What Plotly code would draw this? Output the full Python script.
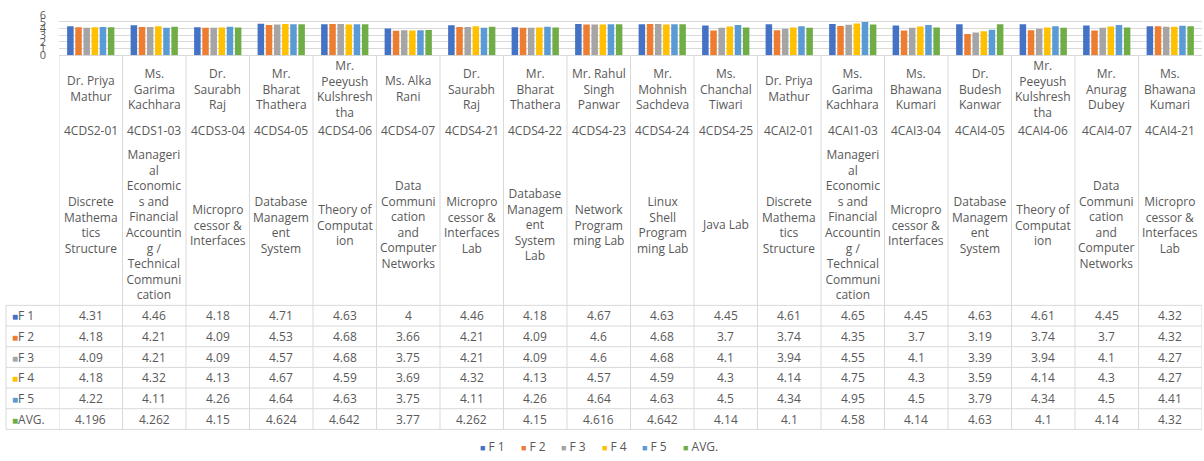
import plotly.graph_objects as go

# ---------------- data ----------------
codes = ["4CDS2-01", "4CDS1-03", "4CDS3-04", "4CDS4-05", "4CDS4-06", "4CDS4-07",
         "4CDS4-21", "4CDS4-22", "4CDS4-23", "4CDS4-24", "4CDS4-25", "4CAI2-01",
         "4CAI1-03", "4CAI3-04", "4CAI4-05", "4CAI4-06", "4CAI4-07", "4CAI4-21"]

teachers = ["Dr. Priya<br>Mathur", "Ms.<br>Garima<br>Kachhara", "Dr.<br>Saurabh<br>Raj",
            "Mr.<br>Bharat<br>Thathera", "Mr.<br>Peeyush<br>Kulshresh<br>tha", "Ms. Alka<br>Rani",
            "Dr.<br>Saurabh<br>Raj", "Mr.<br>Bharat<br>Thathera", "Mr. Rahul<br>Singh<br>Panwar",
            "Mr.<br>Mohnish<br>Sachdeva", "Ms.<br>Chanchal<br>Tiwari", "Dr. Priya<br>Mathur",
            "Ms.<br>Garima<br>Kachhara", "Ms.<br>Bhawana<br>Kumari", "Dr.<br>Budesh<br>Kanwar",
            "Mr.<br>Peeyush<br>Kulshresh<br>tha", "Mr.<br>Anurag<br>Dubey", "Ms.<br>Bhawana<br>Kumari"]

_mgmt = "Manageri<br>al<br>Economic<br>s and<br>Financial<br>Accountin<br>g /<br>Technical<br>Communi<br>cation"
subjects = ["Discrete<br>Mathema<br>tics<br>Structure", _mgmt, "Micropro<br>cessor &<br>Interfaces",
            "Database<br>Managem<br>ent<br>System", "Theory of<br>Computat<br>ion",
            "Data<br>Communi<br>cation<br>and<br>Computer<br>Networks",
            "Micropro<br>cessor &<br>Interfaces<br>Lab", "Database<br>Managem<br>ent<br>System<br>Lab",
            "Network<br>Program<br>ming Lab", "Linux<br>Shell<br>Program<br>ming Lab", "Java Lab",
            "Discrete<br>Mathema<br>tics<br>Structure", _mgmt, "Micropro<br>cessor &<br>Interfaces",
            "Database<br>Managem<br>ent<br>System", "Theory of<br>Computat<br>ion",
            "Data<br>Communi<br>cation<br>and<br>Computer<br>Networks",
            "Micropro<br>cessor &<br>Interfaces<br>Lab"]

series_names = ["F 1", "F 2", "F 3", "F 4", "F 5", "AVG."]
f1 = [4.31, 4.46, 4.18, 4.71, 4.63, 4, 4.46, 4.18, 4.67, 4.63, 4.45, 4.61, 4.65, 4.45, 4.63, 4.61, 4.45, 4.32]
f2 = [4.18, 4.21, 4.09, 4.53, 4.68, 3.66, 4.21, 4.09, 4.6, 4.68, 3.7, 3.74, 4.35, 3.7, 3.19, 3.74, 3.7, 4.32]
f3 = [4.09, 4.21, 4.09, 4.57, 4.68, 3.75, 4.21, 4.09, 4.6, 4.68, 4.1, 3.94, 4.55, 4.1, 3.39, 3.94, 4.1, 4.27]
f4 = [4.18, 4.32, 4.13, 4.67, 4.59, 3.69, 4.32, 4.13, 4.57, 4.59, 4.3, 4.14, 4.75, 4.3, 3.59, 4.14, 4.3, 4.27]
f5 = [4.22, 4.11, 4.26, 4.64, 4.63, 3.75, 4.11, 4.26, 4.64, 4.63, 4.5, 4.34, 4.95, 4.5, 3.79, 4.34, 4.5, 4.41]
avg = [4.196, 4.262, 4.15, 4.624, 4.642, 3.77, 4.262, 4.15, 4.616, 4.642, 4.14, 4.1, 4.58, 4.14, 4.63, 4.1, 4.14, 4.32]
series_values = [f1, f2, f3, f4, f5, avg]

# ---------------- styling ----------------
colors = ["#4472C4", "#ED7D31", "#A5A5A5", "#FFC000", "#5B9BD5", "#70AD47"]
TXT = "#595959"
LINE = "#D9D9D9"
FONT = "Open Sans"
W, H = 1204, 461
ML, MR, MT, MB = 59, 2, 15, 0
PW = W - ML - MR
PH = H - MT - MB


def py(pix):  # pixel row -> paper y
    return (H - MB - pix) / PH


def px(pix):  # pixel column -> paper x
    return (pix - ML) / PW


fig = go.Figure()
for name, vals, col in zip(series_names, series_values, colors):
    fig.add_trace(go.Bar(x=codes, y=vals, name=name, showlegend=False,
                         marker=dict(color=col, line=dict(width=0))))

annotations = []
shapes = []
n = len(codes)
tf = dict(family=FONT, size=12, color=TXT)

# header texts (category labels)
for i in range(n):
    annotations.append(dict(x=codes[i], xref="x", y=py(90), yref="paper", text=teachers[i],
                            showarrow=False, yanchor="middle", xanchor="center", align="center", font=tf))
    annotations.append(dict(x=codes[i], xref="x", y=py(132), yref="paper", text=codes[i],
                            showarrow=False, yanchor="middle", xanchor="center", font=tf))
    annotations.append(dict(x=codes[i], xref="x", y=py(228), yref="paper", text=subjects[i],
                            showarrow=False, yanchor="middle", xanchor="center", align="center", font=tf))

# data table
row_top = 310
row_h = 21
for r, (name, vals, col) in enumerate(zip(series_names, series_values, colors)):
    yc = py(row_top + row_h * (r + 0.5))
    annotations.append(dict(x=px(10), xref="paper", y=yc, yref="paper",
                            text=f"<span style='color:{col};font-size:10px'>■</span>{name}",
                            showarrow=False, xanchor="left", yanchor="middle", font=tf))
    for i in range(n):
        annotations.append(dict(x=codes[i], xref="x", y=yc, yref="paper", text=f"{vals[i]:g}",
                                showarrow=False, xanchor="center", yanchor="middle", font=tf))

# legend (bottom)
for k, (name, col) in enumerate(zip(series_names, colors)):
    annotations.append(dict(x=px(478 + 40.6 * k), xref="paper", y=py(453), yref="paper",
                            text=f"<span style='color:{col};font-size:9px'>■</span> {name}",
                            showarrow=False, xanchor="left", yanchor="middle", font=tf))

# table horizontal lines
for r in range(len(series_names) + 1):
    yy = py(row_top + row_h * r)
    shapes.append(dict(type="line", xref="paper", yref="paper", x0=px(6), x1=1, y0=yy, y1=yy,
                       line=dict(color=LINE, width=1)))
# table left border
shapes.append(dict(type="line", xref="paper", yref="paper", x0=px(6), x1=px(6),
                   y0=py(row_top), y1=py(row_top + row_h * 6), line=dict(color=LINE, width=1)))
# vertical category boundaries
for k in range(n + 1):
    top = py(56) if k < n else py(row_top)
    shapes.append(dict(type="line", xref="x", yref="paper", x0=k - 0.5, x1=k - 0.5,
                       y0=top, y1=py(row_top + row_h * 6), line=dict(color=LINE, width=1)))

fig.update_layout(
    width=W, height=H,
    margin=dict(l=ML, r=MR, t=MT, b=MB),
    paper_bgcolor="white", plot_bgcolor="white",
    barmode="group", bargap=0.23, bargroupgap=0.2,
    font=dict(family=FONT, size=12, color=TXT),
    showlegend=False,
    xaxis=dict(type="category", range=[-0.5, n - 0.5], showticklabels=False, showgrid=False,
               zeroline=False, ticks="", showline=False, fixedrange=True),
    yaxis=dict(domain=[py(56), 1], range=[0, 6], dtick=1, tick0=0, showgrid=True,
               gridcolor=LINE, gridwidth=1, zeroline=True, zerolinecolor=LINE, zerolinewidth=1,
               showline=False, ticks="", ticklabelstandoff=12,
               tickfont=dict(family=FONT, size=11, color=TXT)),
    annotations=annotations,
    shapes=shapes,
)

# remove the default page margin so the figure sits at the window's top-left corner
fig.write_html("out.html", config={"displayModeBar": False},
               post_script="document.body.style.margin='0';")
